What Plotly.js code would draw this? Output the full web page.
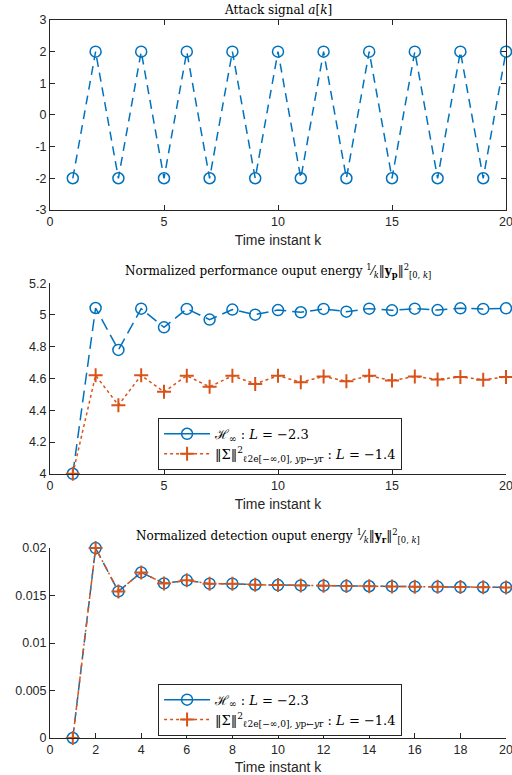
<!DOCTYPE html>
<html><head><meta charset="utf-8">
<script src="https://cdn.plot.ly/plotly-3.0.1.min.js"></script>
<style>html,body{margin:0;padding:0;background:#fff}</style>
</head><body>
<div id="plot" style="width:512px;height:775px"></div>
<script>
const k = [1,2,3,4,5,6,7,8,9,10,11,12,13,14,15,16,17,18,19,20];
const attack = [-2,2,-2,2,-2,2,-2,2,-2,2,-2,2,-2,2,-2,2,-2,2,-2,2];
const perfHinf = [4.0,5.044,4.78,5.04,4.922,5.038,4.971,5.034,5.002,5.031,5.017,5.038,5.021,5.04,5.029,5.04,5.031,5.042,5.038,5.042];
const perfSigma = [4.0,4.62,4.432,4.62,4.516,4.617,4.548,4.617,4.566,4.617,4.577,4.613,4.583,4.617,4.587,4.613,4.594,4.61,4.592,4.61];
const detHinf = [0,0.02,0.01544,0.01744,0.01628,0.0166,0.01625,0.01625,0.01614,0.0161,0.01607,0.01604,0.016,0.01598,0.01596,0.01594,0.01592,0.0159,0.01588,0.01586];
const detSigma = [0,0.02,0.01544,0.01744,0.01628,0.0166,0.01625,0.01625,0.01614,0.0161,0.01607,0.01604,0.016,0.01598,0.01596,0.01594,0.01592,0.0159,0.01588,0.01586];
const xTicks5 = [0,5,10,15,20];
const xTicks2 = [0,2,4,6,8,10,12,14,16,18,20];
const topYTicks = [-3,-2,-1,0,1,2,3];
const topYText = ['-3','-2','-1','0','1','2','3'];
const midYTicks = [4,4.2,4.4,4.6,4.8,5,5.2];
const botYTicks = [0,0.005,0.01,0.015,0.02];
const legendHinf = 'ℋ<sub>∞</sub> : <i>L</i> = −2.3';
const legendSigma = '‖Σ‖<sup>2</sup><sub>ℓ2e[−∞,0], <i>y</i>p←<i>y</i>r</sub> : <i>L</i> = −1.4';

const blue = '#0072BD', orange = '#D95319', axc = '#262626';
const tickFont = {family:'Liberation Sans, Arial, sans-serif', size:12.5, color:axc};
const circ = {symbol:'circle-open', size:11, color:blue, line:{width:1.5, color:blue}};
const plus = {symbol:'cross-thin-open', size:10, color:orange, line:{width:2, color:orange}};

const traces = [
  {x:k, y:attack, xaxis:'x', yaxis:'y', mode:'lines+markers', showlegend:false,
   line:{color:blue, width:1.5, dash:'9px,6px'}, marker:circ, cliponaxis:false},
  {x:k, y:perfHinf, xaxis:'x2', yaxis:'y2', mode:'lines+markers', showlegend:false,
   line:{color:blue, width:1.5, dash:'12px,6px'}, marker:circ, cliponaxis:false},
  {x:k, y:perfSigma, xaxis:'x2', yaxis:'y2', mode:'lines+markers', showlegend:false,
   line:{color:orange, width:1.5, dash:'dot'}, marker:plus, cliponaxis:false},
  {x:k, y:detHinf, xaxis:'x3', yaxis:'y3', mode:'lines+markers', showlegend:false,
   line:{color:blue, width:1.5, dash:'10px,6px'}, marker:circ, cliponaxis:false},
  {x:k, y:detSigma, xaxis:'x3', yaxis:'y3', mode:'lines+markers', showlegend:false,
   line:{color:orange, width:1.5, dash:'6px,3px,2px,3px'}, marker:plus, cliponaxis:false},
  // legend entries (MATLAB legend shows solid / dotted samples)
  {x:[null], y:[null], xaxis:'x2', yaxis:'y2', mode:'lines+markers', name:legendHinf, legend:'legend',
   line:{color:blue, width:1.5}, marker:circ},
  {x:[null], y:[null], xaxis:'x2', yaxis:'y2', mode:'lines+markers', name:legendSigma, legend:'legend',
   line:{color:orange, width:1.5, dash:'dot'}, marker:plus},
  {x:[null], y:[null], xaxis:'x3', yaxis:'y3', mode:'lines+markers', name:legendHinf, legend:'legend2',
   line:{color:blue, width:1.5}, marker:circ},
  {x:[null], y:[null], xaxis:'x3', yaxis:'y3', mode:'lines+markers', name:legendSigma, legend:'legend2',
   line:{color:orange, width:1.5, dash:'dot'}, marker:plus}
];

function xax(anchor, tv, mirror){
  return {anchor:anchor, range:[0,20], tickvals:tv, ticks:'inside', ticklen:5, tickcolor:axc,
    showline:true, linecolor:axc, linewidth:1, mirror:mirror, showgrid:false, zeroline:false,
    ticklabeloverflow:'allow',
    tickfont:tickFont, title:{text:'Time instant k', font:{family:'Liberation Sans, Arial, sans-serif', size:14, color:axc}, standoff:7}};
}
function yax(anchor, domain, range, extra, mirror){
  return Object.assign({anchor:anchor, domain:domain, range:range, ticks:'inside', ticklen:5, tickcolor:axc,
    showline:true, linecolor:axc, linewidth:1, mirror:mirror, showgrid:false, zeroline:false, tickfont:tickFont}, extra);
}
const titleFont = {family:'DejaVu Serif, serif', size:12, color:'#000'};
const legFont = {family:'DejaVu Serif, serif', size:13, color:'#000'};

const layout = {
  width:512, height:775, margin:{l:50, r:6.3, t:20, b:36.7},
  paper_bgcolor:'#fff', plot_bgcolor:'#fff',
  xaxis: xax('y',xTicks5,'ticks'),
  yaxis: yax('x',[0.7355,1],[-3,3],{tickvals:topYTicks, ticktext:topYText},'ticks'),
  xaxis2: xax('y2',xTicks5,false),
  yaxis2: yax('x2',[0.368,0.6334],[4,5.2],{tickvals:midYTicks},false),
  xaxis3: xax('y3',xTicks2,false),
  yaxis3: yax('x3',[0,0.2645],[0,0.02],{tickvals:botYTicks},false),
  legend:{x:0.237, y:0.4459, xanchor:'left', yanchor:'top', bgcolor:'#fff', bordercolor:axc, borderwidth:1, font:legFont, tracegroupgap:0, itemwidth:46},
  legend2:{x:0.237, y:0.0756, xanchor:'left', yanchor:'top', bgcolor:'#fff', bordercolor:axc, borderwidth:1, font:legFont, tracegroupgap:0, itemwidth:46},
  annotations:[
    {text:'Attack signal <i>a</i>[<i>k</i>]', xref:'paper', yref:'paper', x:0.5, y:1.0, yanchor:'bottom', yshift:1, showarrow:false, font:titleFont},
    {text:'Normalized performance ouput energy <sup>1</sup>⁄<sub><i>k</i></sub>‖<b>y</b><sub><b>p</b></sub>‖<sup>2</sup><sub>[0, <i>k</i>]</sub>', xref:'paper', yref:'paper', x:0.5, y:0.6334, yanchor:'bottom', yshift:1, showarrow:false, font:titleFont},
    {text:'Normalized detection ouput energy <sup>1</sup>⁄<sub><i>k</i></sub>‖<b>y</b><sub><b>r</b></sub>‖<sup>2</sup><sub>[0, <i>k</i>]</sub>', xref:'paper', yref:'paper', x:0.5, y:0.2645, yanchor:'bottom', yshift:1, showarrow:false, font:titleFont}
  ]
};
Plotly.newPlot('plot', traces, layout, {displayModeBar:false, staticPlot:true});
</script>
</body></html>
